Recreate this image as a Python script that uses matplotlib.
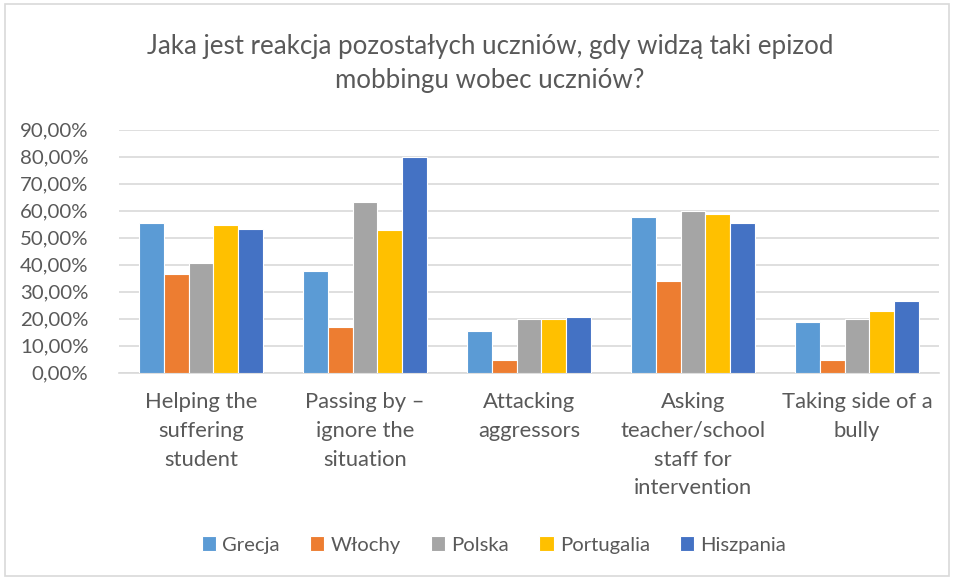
import numpy as np
import matplotlib
matplotlib.use("Agg")
import matplotlib.pyplot as plt
from matplotlib.patches import Rectangle

categories = ["Helping the\nsuffering\nstudent",
              "Passing by \u2013\nignore the\nsituation",
              "Attacking\naggressors",
              "Asking\nteacher/school\nstaff for\nintervention",
              "Taking side of a\nbully"]
series_names = ["Grecja", "Włochy", "Polska", "Portugalia", "Hiszpania"]
grecja     = [0.553, 0.375, 0.153, 0.577, 0.186]
wlochy     = [0.363, 0.168, 0.046, 0.340, 0.046]
polska     = [0.407, 0.631, 0.200, 0.600, 0.200]
portugalia = [0.548, 0.527, 0.200, 0.588, 0.226]
hiszpania  = [0.531, 0.800, 0.207, 0.552, 0.263]
values = [grecja, wlochy, polska, portugalia, hiszpania]
colors = ["#5B9BD5", "#ED7D31", "#A5A5A5", "#FFC000", "#4472C4"]
yticks = [0.0, 0.1, 0.2, 0.3, 0.4, 0.5, 0.6, 0.7, 0.8, 0.9]
title = "Jaka jest reakcja pozostałych uczniów, gdy widzą taki epizod\nmobbingu wobec uczniów?"

plt.rcParams['font.family'] = ['Lato', 'DejaVu Sans']
txt = "#595959"

fig = plt.figure(figsize=(9.55, 5.79), dpi=100)
ax = fig.add_axes([119/955, 1-372.5/579, 820/955, 243/579])

x = np.arange(len(categories))
w = 0.152
for i, (name, vals, c) in enumerate(zip(series_names, values, colors)):
    ax.bar(x + (i-2)*w, vals, w, color=c, edgecolor="white", linewidth=0.8, label=name, zorder=3)

ax.set_xlim(-0.5, 4.5)
ax.set_ylim(0, 0.9)
ax.set_yticks(yticks)
ax.set_yticklabels([f"{v*100:.2f}%".replace(".", ",") for v in yticks], color=txt, fontsize=14.7)
ax.yaxis.grid(True, color="#D9D9D9", linewidth=1.2, zorder=0)
ax.set_xticks(x)
ax.set_xticklabels(categories, color=txt, fontsize=15.8, linespacing=1.55, va="top")
ax.tick_params(axis="both", length=0)
ax.tick_params(axis="y", pad=22)
ax.tick_params(axis="x", pad=14)
for s in ["top", "right", "left"]:
    ax.spines[s].set_visible(False)
ax.spines["bottom"].set_color("#D9D9D9")
ax.spines["bottom"].set_linewidth(1.2)

fig.text(490/955, 1-63.5/579, title, ha="center", va="center", fontsize=18.6,
         color=txt, linespacing=1.45)

leg = fig.legend(loc="center", bbox_to_anchor=(494/955, 1-545/579), ncol=5, frameon=False,
                 fontsize=14.6, handlelength=0.7, handleheight=0.7, handletextpad=0.3,
                 columnspacing=1.5)
for t in leg.get_texts():
    t.set_color(txt)

fig.patches.append(Rectangle((5/955, 3/579), 944/955, 572/579, transform=fig.transFigure,
                             fill=False, edgecolor="#D9D9D9", linewidth=1.2))

fig.savefig("out.png", dpi=100)
